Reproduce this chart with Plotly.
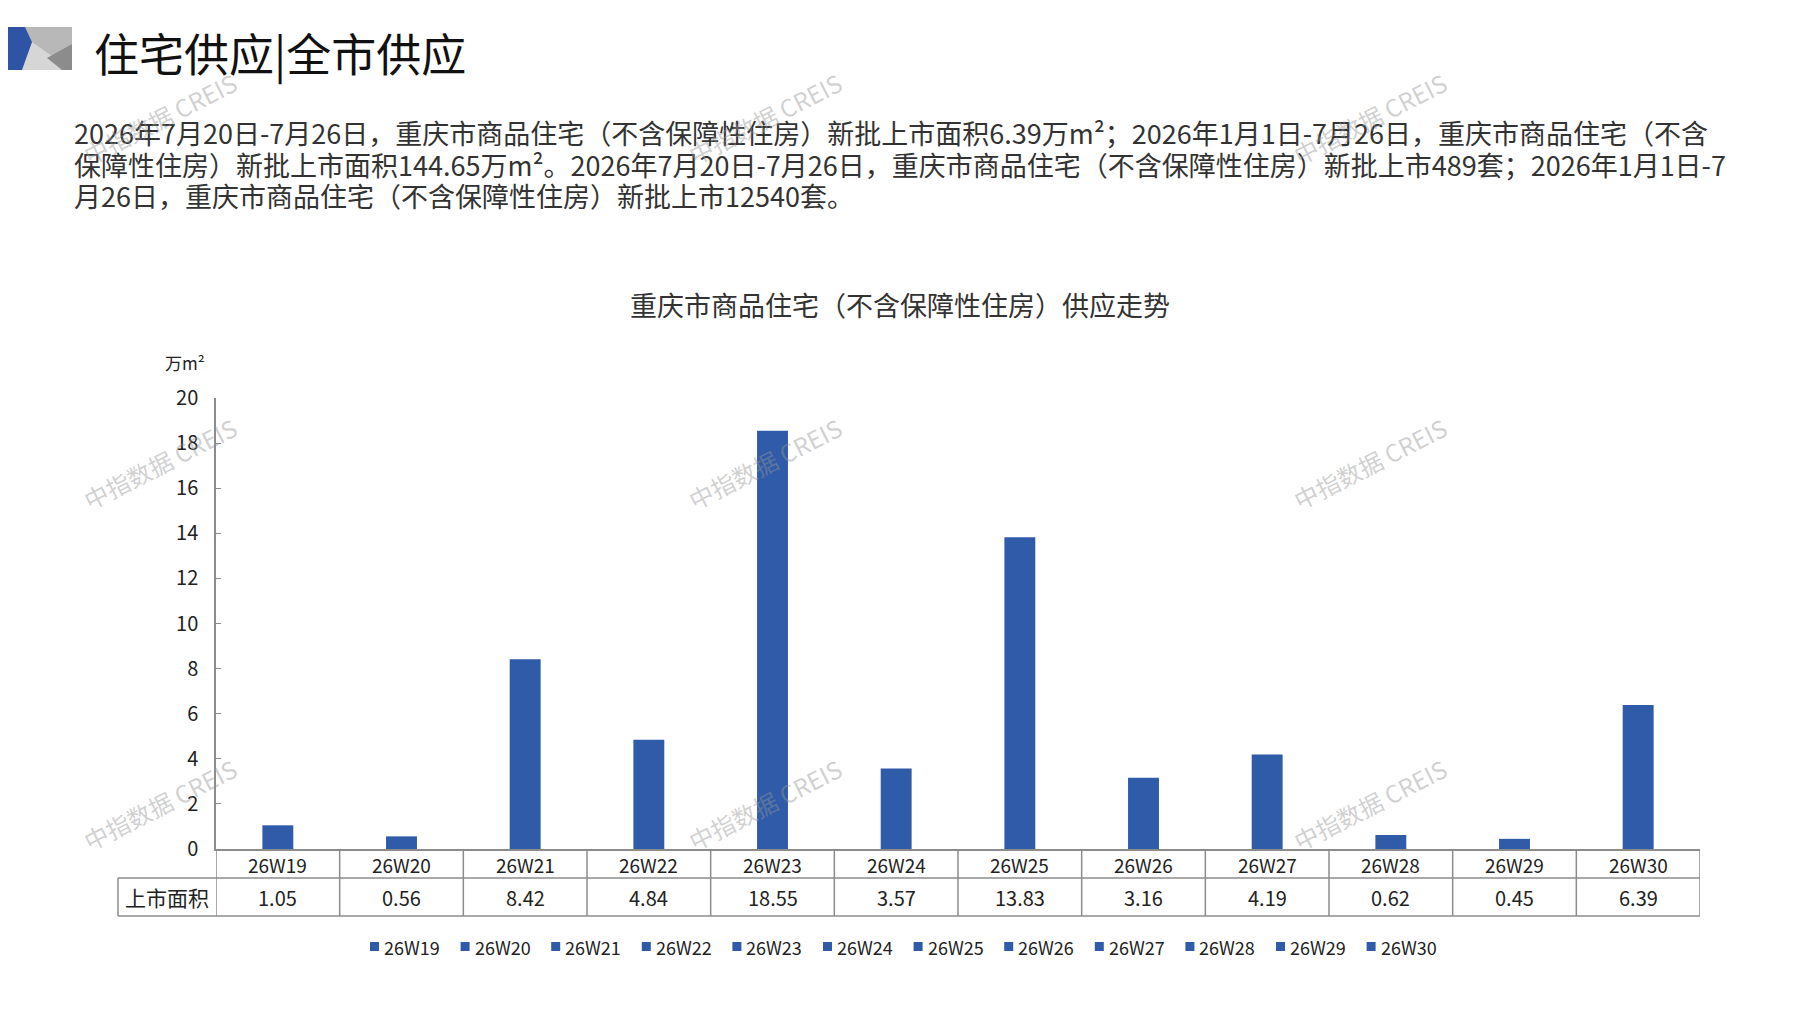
import plotly.graph_objects as go

# данные графика
weeks = ["26W19", "26W20", "26W21", "26W22", "26W23", "26W24",
         "26W25", "26W26", "26W27", "26W28", "26W29", "26W30"]
area = [1.05, 0.56, 8.42, 4.84, 18.55, 3.57, 13.83, 3.16, 4.19, 0.62, 0.45, 6.39]
y_ticks = [0, 2, 4, 6, 8, 10, 12, 14, 16, 18, 20]

header = "住宅供应|全市供应"
para_lines = [
    "2026年7月20日-7月26日，重庆市商品住宅（不含保障性住房）新批上市面积6.39万m²；2026年1月1日-7月26日，重庆市商品住宅（不含",
    "保障性住房）新批上市面积144.65万m²。2026年7月20日-7月26日，重庆市商品住宅（不含保障性住房）新批上市489套；2026年1月1日-7",
    "月26日，重庆市商品住宅（不含保障性住房）新批上市12540套。",
]
chart_title = "重庆市商品住宅（不含保障性住房）供应走势"
unit = "万m²"
row_label = "上市面积"
watermark = "中指数据 CREIS"

# координаты ниже — в пикселях страницы; у body по умолчанию отступ 8px
OFF = 8
PAGE_W, PAGE_H = 1797, 1010
L, RX, T, BY = 216, 1700, 398, 849   # рамка области построения на странице
W, H = PAGE_W - OFF, PAGE_H - OFF
PW, PH = RX - L, BY - T

BLUE = "#2F5BA8"
GRID = "#8C8C8C"
FONT = "Noto Sans CJK SC, sans-serif"


def px(x):
    return (x - L) / PW


def py(y):
    return (BY - y) / PH


fig = go.Figure()

for w, v in zip(weeks, area):
    fig.add_trace(go.Bar(
        x=[w], y=[v], name=w, width=0.25,
        marker=dict(color=BLUE, line=dict(width=0)),
    ))

shapes = []
# иконка в заголовке
shapes.append(dict(type="rect", xref="paper", yref="paper",
                   x0=px(0), x1=px(72), y0=py(27), y1=py(70),
                   fillcolor="#D6D6D6", line=dict(width=0)))
shapes.append(dict(type="path", xref="paper", yref="paper",
                   path=f"M{px(25)},{py(27)} L{px(72)},{py(27)} L{px(72)},{py(46)} L{px(52)},{py(56)} L{px(32)},{py(42)} Z",
                   fillcolor="#B8B8B8", line=dict(width=0)))
shapes.append(dict(type="path", xref="paper", yref="paper",
                   path=f"M{px(72)},{py(44)} L{px(47)},{py(58)} L{px(62)},{py(70)} L{px(72)},{py(70)} Z",
                   fillcolor="#8C8C8C", line=dict(width=0)))
shapes.append(dict(type="path", xref="paper", yref="paper",
                   path=f"M{px(0)},{py(27)} L{px(25)},{py(27)} L{px(32)},{py(42)} L{px(22)},{py(70)} L{px(0)},{py(70)} Z",
                   fillcolor="#2F54A6", line=dict(width=0)))

# таблица под осью
line = dict(color=GRID, width=1.5)
n = len(weeks)
for i in range(n + 1):
    shapes.append(dict(type="line", xref="x", yref="paper",
                       x0=i - 0.5, x1=i - 0.5, y0=0, y1=py(916), line=line))
shapes.append(dict(type="line", xref="paper", yref="paper",
                   x0=px(118), x1=px(118), y0=py(878), y1=py(916), line=line))
for yy in (878, 916):
    shapes.append(dict(type="line", xref="paper", yref="paper",
                       x0=px(118), x1=1, y0=py(yy), y1=py(yy), line=line))

ann = []
ann.append(dict(text=header, xref="paper", yref="paper", x=px(92), y=py(52),
                xanchor="left", yanchor="middle", showarrow=False,
                font=dict(family=FONT, size=45, color="#111111")))
for t, yy in zip(para_lines, (132, 164, 196)):
    ann.append(dict(text=t, xref="paper", yref="paper", x=px(72), y=py(yy),
                    xanchor="left", yanchor="middle", showarrow=False,
                    font=dict(family=FONT, size=27, color="#333333")))
ann.append(dict(text=chart_title, xref="paper", yref="paper", x=px(900), y=py(304),
                xanchor="center", yanchor="middle", showarrow=False,
                font=dict(family=FONT, size=27, color="#333333")))
ann.append(dict(text=unit, xref="paper", yref="paper", x=px(185), y=py(362),
                xanchor="center", yanchor="middle", showarrow=False,
                font=dict(family=FONT, size=17, color="#222222")))
ann.append(dict(text=row_label, xref="paper", yref="paper", x=px(167), y=py(897),
                xanchor="center", yanchor="middle", showarrow=False,
                font=dict(family=FONT, size=21, color="#222222")))
for w, v in zip(weeks, area):
    ann.append(dict(text=w, xref="x", yref="paper", x=w, y=py(864),
                    xanchor="center", yanchor="middle", showarrow=False,
                    font=dict(family=FONT, size=19, color="#222222")))
    ann.append(dict(text=f"{v:.2f}", xref="x", yref="paper", x=w, y=py(897),
                    xanchor="center", yanchor="middle", showarrow=False,
                    font=dict(family=FONT, size=20, color="#222222")))

# легенда: квадрат + подпись, как в Excel
for i, w in enumerate(weeks):
    x0 = 370 + i * 90.6
    shapes.append(dict(type="rect", xref="paper", yref="paper",
                       x0=px(x0), x1=px(x0 + 9), y0=py(951), y1=py(942),
                       fillcolor=BLUE, line=dict(width=0)))
    ann.append(dict(text=w, xref="paper", yref="paper", x=px(x0 + 12), y=py(947),
                    xanchor="left", yanchor="middle", showarrow=False,
                    font=dict(family=FONT, size=18, color="#222222")))

# водяные знаки
for cx in (159, 764, 1369):
    for cy in (118, 463, 804):
        ann.append(dict(text=watermark, xref="paper", yref="paper", x=px(cx), y=py(cy),
                        xanchor="center", yanchor="middle", showarrow=False, textangle=-27,
                        font=dict(family=FONT, size=24, color="rgba(150,150,150,0.45)")))

fig.update_layout(
    width=W, height=H,
    margin=dict(l=L - OFF, r=PAGE_W - RX, t=T - OFF, b=PAGE_H - BY, autoexpand=False),
    paper_bgcolor="white", plot_bgcolor="white",
    barmode="overlay",
    showlegend=False,
    xaxis=dict(type="category", categoryorder="array", categoryarray=weeks,
               range=[-0.5, n - 0.5], showticklabels=False, ticks="",
               showline=True, linecolor=GRID, linewidth=1.5, showgrid=False, zeroline=False),
    yaxis=dict(range=[0, 20], tickvals=y_ticks, showline=True, linecolor=GRID, linewidth=1.5,
               ticks="inside", ticklen=5, tickcolor=GRID, ticklabelstandoff=12,
               showgrid=False, zeroline=False,
               tickfont=dict(family=FONT, size=20, color="#222222")),
    shapes=shapes,
    annotations=ann,
)

fig.write_html("out.html")
